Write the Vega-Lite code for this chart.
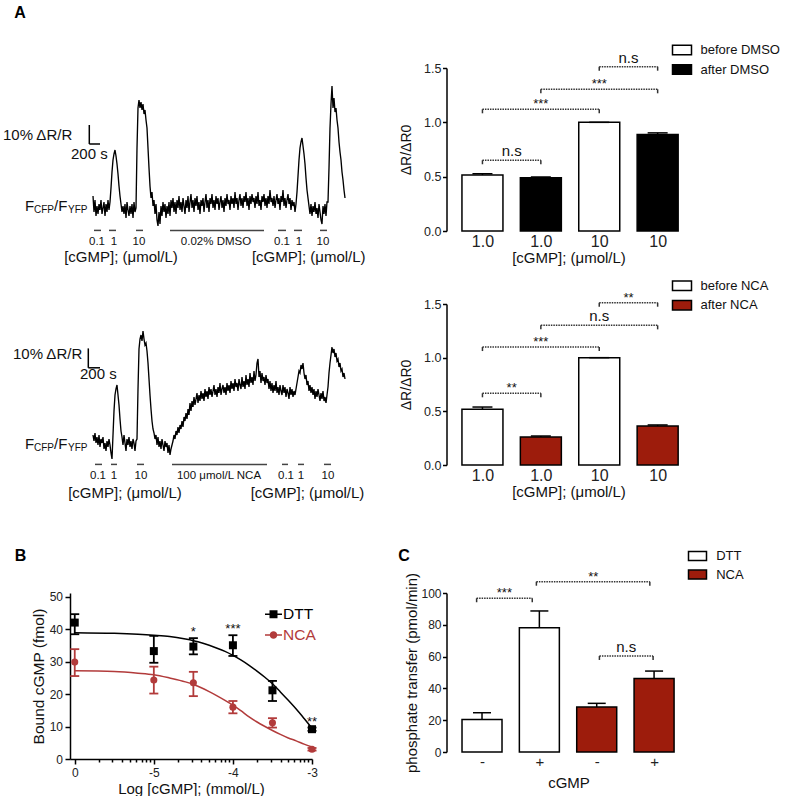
{
"$schema": "https://vega.github.io/schema/vega-lite/v6.json",
"background": "white",
"padding": {"left": 3, "top": 4, "right": 0, "bottom": 0},
"config": {
  "view": {"stroke": null},
  "font": "Liberation Sans",
  "axis": {"grid": false, "domainColor": "black", "domainWidth": 1.5, "tickColor": "black", "tickWidth": 1.5, "labelColor": "#222", "titleColor": "#111", "titleFontWeight": "normal", "labelFlush": false, "labelOverlap": false, "tickCount": 100},
  "legend": {"labelColor": "#111"},
  "text": {"color": "#111"}
},
"resolve": {"scale": {"fill": "independent", "color": "independent", "shape": "independent"}},
"datasets": {
"trace1": [{"t":0,"v":6},{"t":20,"v":-2},{"t":40,"v":4},{"t":60,"v":-4},{"t":80,"v":1},{"t":100,"v":-3},{"t":120,"v":2},{"t":140,"v":-1},{"t":160,"v":4},{"t":180,"v":-3},
{"t":200,"v":0},{"t":220,"v":3},{"t":240,"v":-4},{"t":260,"v":2},{"t":280,"v":-2},{"t":300,"v":4},{"t":320,"v":-1},{"t":340,"v":3},{"t":360,"v":10},{"t":380,"v":18},
{"t":400,"v":24},{"t":420,"v":27},{"t":440,"v":29},{"t":460,"v":26},{"t":480,"v":22},{"t":500,"v":17},{"t":520,"v":11},{"t":540,"v":6},{"t":560,"v":2},{"t":580,"v":-2},
{"t":600,"v":1},{"t":620,"v":-3},{"t":640,"v":2},{"t":660,"v":-5},{"t":680,"v":3},{"t":700,"v":-1},{"t":720,"v":-4},{"t":740,"v":1},{"t":760,"v":-3},{"t":780,"v":2},
{"t":800,"v":-5},{"t":820,"v":3},{"t":840,"v":-2},{"t":860,"v":0},{"t":880,"v":30},{"t":900,"v":50},{"t":920,"v":54},{"t":940,"v":50},{"t":960,"v":53},{"t":980,"v":49},
{"t":1000,"v":52},{"t":1020,"v":47},{"t":1040,"v":49},{"t":1060,"v":44},{"t":1080,"v":40},{"t":1100,"v":30},{"t":1120,"v":20},{"t":1140,"v":11},{"t":1160,"v":5},{"t":1180,"v":8},
{"t":1200,"v":1},{"t":1220,"v":4},{"t":1240,"v":-3},{"t":1260,"v":2},{"t":1280,"v":-6},{"t":1300,"v":-9},{"t":1320,"v":-2},{"t":1340,"v":-8},{"t":1360,"v":1},{"t":1380,"v":-4},
{"t":1400,"v":3},{"t":1420,"v":-2},{"t":1440,"v":2},{"t":1460,"v":-5},{"t":1480,"v":1},{"t":1500,"v":-3},{"t":1520,"v":3},{"t":1540,"v":-4},{"t":1560,"v":4},{"t":1580,"v":0},
{"t":1600,"v":5},{"t":1620,"v":-2},{"t":1640,"v":3},{"t":1660,"v":-3},{"t":1680,"v":4},{"t":1700,"v":0},{"t":1720,"v":6},{"t":1740,"v":-1},{"t":1760,"v":3},{"t":1780,"v":-2},
{"t":1800,"v":5},{"t":1820,"v":1},{"t":1840,"v":-3},{"t":1860,"v":4},{"t":1880,"v":0},{"t":1900,"v":6},{"t":1920,"v":-2},{"t":1940,"v":3},{"t":1960,"v":7},{"t":1980,"v":0},
{"t":2000,"v":4},{"t":2020,"v":-2},{"t":2040,"v":5},{"t":2060,"v":1},{"t":2080,"v":6},{"t":2100,"v":-1},{"t":2120,"v":3},{"t":2140,"v":-3},{"t":2160,"v":4},{"t":2180,"v":1},
{"t":2200,"v":5},{"t":2220,"v":-2},{"t":2240,"v":3},{"t":2260,"v":7},{"t":2280,"v":0},{"t":2300,"v":4},{"t":2320,"v":-2},{"t":2340,"v":5},{"t":2360,"v":2},{"t":2380,"v":7},
{"t":2400,"v":0},{"t":2420,"v":4},{"t":2440,"v":-1},{"t":2460,"v":6},{"t":2480,"v":2},{"t":2500,"v":5},{"t":2520,"v":-1},{"t":2540,"v":3},{"t":2560,"v":6},{"t":2580,"v":0},
{"t":2600,"v":4},{"t":2620,"v":-2},{"t":2640,"v":5},{"t":2660,"v":1},{"t":2680,"v":7},{"t":2700,"v":2},{"t":2720,"v":4},{"t":2740,"v":-1},{"t":2760,"v":6},{"t":2780,"v":2},
{"t":2800,"v":5},{"t":2820,"v":0},{"t":2840,"v":8},{"t":2860,"v":2},{"t":2880,"v":5},{"t":2900,"v":-1},{"t":2920,"v":4},{"t":2940,"v":7},{"t":2960,"v":1},{"t":2980,"v":5},
{"t":3000,"v":0},{"t":3020,"v":6},{"t":3040,"v":3},{"t":3060,"v":8},{"t":3080,"v":1},{"t":3100,"v":5},{"t":3120,"v":-1},{"t":3140,"v":6},{"t":3160,"v":2},{"t":3180,"v":7},
{"t":3200,"v":3},{"t":3220,"v":5},{"t":3240,"v":0},{"t":3260,"v":6},{"t":3280,"v":2},{"t":3300,"v":8},{"t":3320,"v":1},{"t":3340,"v":4},{"t":3360,"v":-1},{"t":3380,"v":6},
{"t":3400,"v":3},{"t":3420,"v":7},{"t":3440,"v":1},{"t":3460,"v":5},{"t":3480,"v":0},{"t":3500,"v":6},{"t":3520,"v":2},{"t":3540,"v":9},{"t":3560,"v":3},{"t":3580,"v":5},
{"t":3600,"v":1},{"t":3620,"v":6},{"t":3640,"v":0},{"t":3660,"v":4},{"t":3680,"v":7},{"t":3700,"v":2},{"t":3720,"v":5},{"t":3740,"v":-1},{"t":3760,"v":6},{"t":3780,"v":3},
{"t":3800,"v":9},{"t":3820,"v":1},{"t":3840,"v":5},{"t":3860,"v":0},{"t":3880,"v":4},{"t":3900,"v":7},{"t":3920,"v":2},{"t":3940,"v":5},{"t":3960,"v":-1},{"t":3980,"v":4},
{"t":4000,"v":1},{"t":4020,"v":3},{"t":4040,"v":-2},{"t":4060,"v":2},{"t":4080,"v":8},{"t":4100,"v":16},{"t":4120,"v":24},{"t":4140,"v":30},{"t":4160,"v":33},{"t":4180,"v":35},
{"t":4200,"v":31},{"t":4220,"v":27},{"t":4240,"v":22},{"t":4260,"v":15},{"t":4280,"v":9},{"t":4300,"v":5},{"t":4320,"v":1},{"t":4340,"v":-3},{"t":4360,"v":2},{"t":4380,"v":-4},
{"t":4400,"v":1},{"t":4420,"v":-2},{"t":4440,"v":3},{"t":4460,"v":-3},{"t":4480,"v":0},{"t":4500,"v":-5},{"t":4520,"v":2},{"t":4540,"v":-2},{"t":4560,"v":-6},{"t":4580,"v":-8},
{"t":4600,"v":1},{"t":4620,"v":-3},{"t":4640,"v":2},{"t":4660,"v":-4},{"t":4680,"v":3},{"t":4700,"v":3},{"t":4720,"v":20},{"t":4740,"v":40},{"t":4760,"v":52},{"t":4780,"v":61},
{"t":4800,"v":50},{"t":4820,"v":55},{"t":4840,"v":48},{"t":4860,"v":50},{"t":4880,"v":44},{"t":4900,"v":40},{"t":4920,"v":33},{"t":4940,"v":28},{"t":4960,"v":24},{"t":4980,"v":18},
{"t":5000,"v":14},{"t":5020,"v":9},{"t":5040,"v":5}],
"trace2": [{"t":0,"v":2},{"t":20,"v":-1},{"t":40,"v":3},{"t":60,"v":-2},{"t":80,"v":1},{"t":100,"v":-3},{"t":120,"v":2},{"t":140,"v":-4},{"t":160,"v":0},{"t":180,"v":-2},
{"t":200,"v":1},{"t":220,"v":-5},{"t":240,"v":-2},{"t":260,"v":-6},{"t":280,"v":-1},{"t":300,"v":-4},{"t":320,"v":0},{"t":340,"v":-3},{"t":360,"v":-7},{"t":380,"v":-10},
{"t":400,"v":2},{"t":420,"v":14},{"t":440,"v":22},{"t":460,"v":25},{"t":480,"v":27},{"t":500,"v":22},{"t":520,"v":17},{"t":540,"v":10},{"t":560,"v":4},{"t":580,"v":1},
{"t":600,"v":-3},{"t":620,"v":2},{"t":640,"v":-2},{"t":660,"v":-6},{"t":680,"v":0},{"t":700,"v":-3},{"t":720,"v":1},{"t":740,"v":-4},{"t":760,"v":-1},{"t":780,"v":-5},
{"t":800,"v":0},{"t":820,"v":-2},{"t":840,"v":-6},{"t":860,"v":-1},{"t":880,"v":0},{"t":900,"v":25},{"t":920,"v":45},{"t":940,"v":50},{"t":960,"v":52},{"t":980,"v":49},
{"t":1000,"v":54},{"t":1020,"v":50},{"t":1040,"v":47},{"t":1060,"v":48},{"t":1080,"v":44},{"t":1100,"v":38},{"t":1120,"v":30},{"t":1140,"v":22},{"t":1160,"v":15},{"t":1180,"v":9},
{"t":1200,"v":5},{"t":1220,"v":3},{"t":1240,"v":0},{"t":1260,"v":2},{"t":1280,"v":-3},{"t":1300,"v":1},{"t":1320,"v":-4},{"t":1340,"v":-1},{"t":1360,"v":-5},{"t":1380,"v":0},
{"t":1400,"v":-3},{"t":1420,"v":-6},{"t":1440,"v":-1},{"t":1460,"v":-4},{"t":1480,"v":-2},{"t":1500,"v":-7},{"t":1520,"v":-3},{"t":1540,"v":-8},{"t":1560,"v":-5},{"t":1580,"v":-3},
{"t":1600,"v":-1},{"t":1620,"v":2},{"t":1640,"v":0},{"t":1660,"v":4},{"t":1680,"v":2},{"t":1700,"v":6},{"t":1720,"v":3},{"t":1740,"v":7},{"t":1760,"v":5},{"t":1780,"v":9},
{"t":1800,"v":6},{"t":1820,"v":11},{"t":1840,"v":9},{"t":1860,"v":13},{"t":1880,"v":10},{"t":1900,"v":15},{"t":1920,"v":12},{"t":1940,"v":18},{"t":1960,"v":14},{"t":1980,"v":19},
{"t":2000,"v":16},{"t":2020,"v":21},{"t":2040,"v":17},{"t":2060,"v":20},{"t":2080,"v":23},{"t":2100,"v":18},{"t":2120,"v":22},{"t":2140,"v":19},{"t":2160,"v":24},{"t":2180,"v":20},
{"t":2200,"v":23},{"t":2220,"v":19},{"t":2240,"v":25},{"t":2260,"v":21},{"t":2280,"v":24},{"t":2300,"v":20},{"t":2320,"v":26},{"t":2340,"v":22},{"t":2360,"v":25},{"t":2380,"v":21},
{"t":2400,"v":24},{"t":2420,"v":27},{"t":2440,"v":22},{"t":2460,"v":25},{"t":2480,"v":21},{"t":2500,"v":26},{"t":2520,"v":23},{"t":2540,"v":28},{"t":2560,"v":22},{"t":2580,"v":25},
{"t":2600,"v":27},{"t":2620,"v":23},{"t":2640,"v":26},{"t":2660,"v":22},{"t":2680,"v":28},{"t":2700,"v":24},{"t":2720,"v":27},{"t":2740,"v":23},{"t":2760,"v":29},{"t":2780,"v":25},
{"t":2800,"v":28},{"t":2820,"v":24},{"t":2840,"v":30},{"t":2860,"v":26},{"t":2880,"v":28},{"t":2900,"v":24},{"t":2920,"v":30},{"t":2940,"v":27},{"t":2960,"v":25},{"t":2980,"v":31},
{"t":3000,"v":26},{"t":3020,"v":29},{"t":3040,"v":25},{"t":3060,"v":32},{"t":3080,"v":27},{"t":3100,"v":30},{"t":3120,"v":26},{"t":3140,"v":33},{"t":3160,"v":28},{"t":3180,"v":31},
{"t":3200,"v":27},{"t":3220,"v":34},{"t":3240,"v":29},{"t":3260,"v":32},{"t":3280,"v":38},{"t":3300,"v":40},{"t":3320,"v":31},{"t":3340,"v":34},{"t":3360,"v":28},{"t":3380,"v":33},
{"t":3400,"v":29},{"t":3420,"v":31},{"t":3440,"v":27},{"t":3460,"v":32},{"t":3480,"v":28},{"t":3500,"v":30},{"t":3520,"v":25},{"t":3540,"v":29},{"t":3560,"v":24},{"t":3580,"v":28},
{"t":3600,"v":23},{"t":3620,"v":27},{"t":3640,"v":24},{"t":3660,"v":29},{"t":3680,"v":23},{"t":3700,"v":26},{"t":3720,"v":22},{"t":3740,"v":27},{"t":3760,"v":24},{"t":3780,"v":22},
{"t":3800,"v":27},{"t":3820,"v":23},{"t":3840,"v":26},{"t":3860,"v":21},{"t":3880,"v":25},{"t":3900,"v":23},{"t":3920,"v":20},{"t":3940,"v":26},{"t":3960,"v":22},{"t":3980,"v":25},
{"t":4000,"v":21},{"t":4020,"v":24},{"t":4040,"v":22},{"t":4060,"v":25},{"t":4080,"v":28},{"t":4100,"v":31},{"t":4120,"v":34},{"t":4140,"v":33},{"t":4160,"v":37},{"t":4180,"v":35},
{"t":4200,"v":38},{"t":4220,"v":33},{"t":4240,"v":30},{"t":4260,"v":32},{"t":4280,"v":27},{"t":4300,"v":29},{"t":4320,"v":24},{"t":4340,"v":27},{"t":4360,"v":23},{"t":4380,"v":26},
{"t":4400,"v":22},{"t":4420,"v":25},{"t":4440,"v":20},{"t":4460,"v":24},{"t":4480,"v":21},{"t":4500,"v":25},{"t":4520,"v":22},{"t":4540,"v":19},{"t":4560,"v":23},{"t":4580,"v":20},
{"t":4600,"v":24},{"t":4620,"v":19},{"t":4640,"v":21},{"t":4660,"v":18},{"t":4680,"v":22},{"t":4700,"v":26},{"t":4720,"v":33},{"t":4740,"v":38},{"t":4760,"v":42},{"t":4780,"v":46},
{"t":4800,"v":43},{"t":4820,"v":45},{"t":4840,"v":41},{"t":4860,"v":43},{"t":4880,"v":39},{"t":4900,"v":40},{"t":4920,"v":36},{"t":4940,"v":38},{"t":4960,"v":34},{"t":4980,"v":35},
{"t":5000,"v":31},{"t":5020,"v":33},{"t":5040,"v":30}]
},
"columns": 2,
"spacing": {"row": 20, "column": 76.5},
"bounds": "flush",
"align": "each",
"concat": [
{
 "width": 300, "height": 216,
 "layer": [
  {"data": {"name": "trace1"},
   "mark": {"type": "line", "color": "black", "strokeWidth": 1.35},
   "encoding": {
     "x": {"field": "t", "type": "quantitative", "scale": {"domain": [-460, 5540], "nice": false, "zero": false}, "axis": null},
     "y": {"field": "v", "type": "quantitative", "scale": {"domain": [-38, 70], "nice": false, "zero": false}, "axis": null}}},
  {"data": {"values": [{"t1":20,"t2":160,"tm":80,"label":"0.1"},{"t1":320,"t2":460,"tm":420,"label":"1"},{"t1":860,"t2":1000,"tm":920,"label":"10"},{"t1":1540,"t2":3420,"tm":2460,"label":"0.02% DMSO"},{"t1":3700,"t2":3860,"tm":3780,"label":"0.1"},{"t1":4020,"t2":4180,"tm":4120,"label":"1"},{"t1":4540,"t2":4680,"tm":4600,"label":"10"}]},
   "layer": [
    {"mark": {"type": "rule", "color": "#444", "strokeWidth": 1.5},
     "encoding": {"x": {"field": "t1", "type": "quantitative", "axis": null}, "x2": {"field": "t2"}, "y": {"datum": -11.2, "axis": null}}},
    {"mark": {"type": "text", "fontSize": 11.5, "align": "center", "baseline": "alphabetic"},
     "encoding": {"x": {"field": "tm", "type": "quantitative", "axis": null}, "y": {"datum": -18.25, "axis": null}, "text": {"field": "label"}}}
   ]},
  {"data": {"values": [{"tm": 560, "label": "[cGMP]; (μmol/L)"}, {"tm": 4315, "label": "[cGMP]; (μmol/L)"}]},
   "mark": {"type": "text", "fontSize": 15, "align": "center", "baseline": "alphabetic"},
   "encoding": {"x": {"field": "tm", "type": "quantitative", "axis": null}, "y": {"datum": -27, "axis": null}, "text": {"field": "label"}}},
  {"data": {"values": [{}]}, "mark": {"type": "rule", "color": "black", "strokeWidth": 1.5},
   "encoding": {"x": {"datum": -74, "axis": null}, "y": {"datum": 32, "axis": null}, "y2": {"datum": 41.5}}},
  {"data": {"values": [{}]}, "mark": {"type": "rule", "color": "black", "strokeWidth": 1.5},
   "encoding": {"x": {"datum": -74, "axis": null}, "x2": {"datum": 140}, "y": {"datum": 32, "axis": null}}},
  {"data": {"values": [{"t": -1800, "v": 34, "s": "10% ΔR/R"}, {"t": -440, "v": 24.75, "s": "200 s"}, {"t": -1360, "v": -1.5, "s": "F"}, {"t": -780, "v": -1.5, "s": "/F"}]},
   "mark": {"type": "text", "fontSize": 15, "align": "left", "baseline": "alphabetic"},
   "encoding": {"x": {"field": "t", "type": "quantitative", "axis": null}, "y": {"field": "v", "type": "quantitative", "axis": null}, "text": {"field": "s"}}},
  {"data": {"values": [{"t": -1180, "v": -2.25, "s": "CFP"}, {"t": -500, "v": -2.25, "s": "YFP"}]},
   "mark": {"type": "text", "fontSize": 10, "align": "left", "baseline": "alphabetic"},
   "encoding": {"x": {"field": "t", "type": "quantitative", "axis": null}, "y": {"field": "v", "type": "quantitative", "axis": null}, "text": {"field": "s"}}},
  {"data": {"values": [{"t": -1460, "v": 95.15, "s": "A"}]},
   "mark": {"type": "text", "fontSize": 16, "fontWeight": "bold", "align": "center", "baseline": "alphabetic", "color": "black"},
   "encoding": {"x": {"field": "t", "type": "quantitative", "axis": null}, "y": {"field": "v", "type": "quantitative", "axis": null}, "text": {"field": "s"}}}
 ]
},
{
 "width": 244, "height": 163,
 "layer": [
  {"data": {"values": [{"pos":1,"conc":"1.0","cond":"before DMSO","value":0.515,"hi":0.527},{"pos":2,"conc":"1.0","cond":"after DMSO","value":0.49,"hi":0.497},{"pos":3,"conc":"10","cond":"before DMSO","value":1.0,"hi":1.0},{"pos":4,"conc":"10","cond":"after DMSO","value":0.888,"hi":0.903}]},
   "layer": [
    {"mark": {"type": "bar", "orient": "vertical", "width": 41, "stroke": "black", "strokeWidth": 1.5},
     "encoding": {
       "x": {"field": "pos", "type": "quantitative", "scale": {"domain": [0.47, 4.477], "nice": false, "zero": false}, "axis": {"values": [1,2,3,4], "tickCount": 100, "labelExpr": "datum.value <= 2 ? '1.0' : '10'", "domain": false, "ticks": false, "labelOverlap": false, "labelFlush": false, "labelFontSize": 16, "labelPadding": 2, "title": "[cGMP]; (μmol/L)", "titleFontSize": 15, "titlePadding": 1}},
       "y": {"field": "value", "type": "quantitative", "scale": {"domain": [0, 1.5], "nice": false}, "axis": {"values": [0, 0.5, 1, 1.5], "tickCount": 100, "format": ".1f", "tickSize": 4, "labelOverlap": false, "labelFlush": false, "labelFontSize": 12.5, "labelPadding": 1.5, "title": "ΔR/ΔR0", "titleFontSize": 14, "titlePadding": 10}},
       "y2": {"datum": 0},
       "fill": {"field": "cond", "type": "nominal", "scale": {"domain": ["before DMSO", "after DMSO"], "range": ["white", "black"]},
                "legend": {"orient": "none", "legendX": 225, "legendY": -28.5, "title": null, "symbolType": "M-1,-0.5H1V0.5H-1Z", "symbolSize": 361, "symbolStrokeColor": "black", "symbolStrokeWidth": 1.5, "symbolOpacity": 1, "labelFontSize": 13, "labelOffset": 8, "rowPadding": 0.5, "padding": 0}}}},
    {"mark": {"type": "rule", "color": "black", "strokeWidth": 1.5},
     "encoding": {"x": {"field": "pos", "type": "quantitative"}, "y": {"field": "value", "type": "quantitative"}, "y2": {"field": "hi"}}},
    {"mark": {"type": "tick", "orient": "horizontal", "size": 20, "thickness": 1.5, "color": "black", "opacity": 1},
     "encoding": {"x": {"field": "pos", "type": "quantitative"}, "y": {"field": "hi", "type": "quantitative"}}}
   ]},
  {"data": {"values": [{"x1":1,"x2":2,"xm":1.5,"y":0.651,"label":"n.s"},{"x1":1,"x2":3,"xm":2,"y":1.12,"label":"***"},{"x1":2,"x2":4,"xm":3,"y":1.304,"label":"***"},{"x1":3,"x2":4,"xm":3.5,"y":1.512,"label":"n.s"}]},
   "layer": [
    {"mark": {"type": "rule", "color": "#333", "strokeWidth": 1.5, "strokeDash": [1.5, 1]},
     "encoding": {"x": {"field": "x1", "type": "quantitative"}, "x2": {"field": "x2"}, "y": {"field": "y", "type": "quantitative"}}},
    {"mark": {"type": "rule", "color": "#333", "strokeWidth": 1.5, "y2Offset": 4},
     "encoding": {"x": {"field": "x1", "type": "quantitative"}, "y": {"field": "y", "type": "quantitative"}, "y2": {"field": "y"}}},
    {"mark": {"type": "rule", "color": "#333", "strokeWidth": 1.5, "y2Offset": 4},
     "encoding": {"x": {"field": "x2", "type": "quantitative"}, "y": {"field": "y", "type": "quantitative"}, "y2": {"field": "y"}}},
    {"transform": [{"filter": "datum.label == 'n.s'"}],
     "mark": {"type": "text", "fontSize": 15, "dy": -4, "baseline": "alphabetic"},
     "encoding": {"x": {"field": "xm", "type": "quantitative"}, "y": {"field": "y", "type": "quantitative"}, "text": {"field": "label"}}},
    {"transform": [{"filter": "datum.label != 'n.s'"}],
     "mark": {"type": "text", "fontSize": 13, "dy": -1, "baseline": "alphabetic"},
     "encoding": {"x": {"field": "xm", "type": "quantitative"}, "y": {"field": "y", "type": "quantitative"}, "text": {"field": "label"}}}
   ]}
 ]
},
{
 "width": 300, "height": 269,
 "layer": [
  {"data": {"name": "trace2"},
   "mark": {"type": "line", "color": "black", "strokeWidth": 1.35},
   "encoding": {
     "x": {"field": "t", "type": "quantitative", "scale": {"domain": [-460, 5540], "nice": false, "zero": false}, "axis": null},
     "y": {"field": "v", "type": "quantitative", "scale": {"domain": [-67, 67.5], "nice": false, "zero": false}, "axis": null}}},
  {"data": {"values": [{"t1":40,"t2":180,"tm":100,"label":"0.1"},{"t1":360,"t2":480,"tm":420,"label":"1"},{"t1":880,"t2":1020,"tm":960,"label":"10"},{"t1":1580,"t2":3480,"tm":2520,"label":"100 μmol/L NCA"},{"t1":3780,"t2":3900,"tm":3860,"label":"0.1"},{"t1":4100,"t2":4220,"tm":4160,"label":"1"},{"t1":4620,"t2":4760,"tm":4700,"label":"10"}]},
   "layer": [
    {"mark": {"type": "rule", "color": "#444", "strokeWidth": 1.5},
     "encoding": {"x": {"field": "t1", "type": "quantitative", "axis": null}, "x2": {"field": "t2"}, "y": {"datum": -12.7, "axis": null}}},
    {"mark": {"type": "text", "fontSize": 11.5, "align": "center", "baseline": "alphabetic"},
     "encoding": {"x": {"field": "tm", "type": "quantitative", "axis": null}, "y": {"datum": -20, "axis": null}, "text": {"field": "label"}}}
   ]},
  {"data": {"values": [{"tm": 640, "label": "[cGMP]; (μmol/L)"}, {"tm": 4290, "label": "[cGMP]; (μmol/L)"}]},
   "mark": {"type": "text", "fontSize": 15, "align": "center", "baseline": "alphabetic"},
   "encoding": {"x": {"field": "tm", "type": "quantitative", "axis": null}, "y": {"datum": -29.5, "axis": null}, "text": {"field": "label"}}},
  {"data": {"values": [{}]}, "mark": {"type": "rule", "color": "black", "strokeWidth": 1.5},
   "encoding": {"x": {"datum": -94, "axis": null}, "y": {"datum": 35.6, "axis": null}, "y2": {"datum": 45.3}}},
  {"data": {"values": [{}]}, "mark": {"type": "rule", "color": "black", "strokeWidth": 1.5},
   "encoding": {"x": {"datum": -94, "axis": null}, "x2": {"datum": 140}, "y": {"datum": 35.6, "axis": null}}},
  {"data": {"values": [{"t": -1600, "v": 40.25, "s": "10% ΔR/R"}, {"t": -260, "v": 30.25, "s": "200 s"}, {"t": -1360, "v": -5, "s": "F"}, {"t": -780, "v": -5, "s": "/F"}]},
   "mark": {"type": "text", "fontSize": 15, "align": "left", "baseline": "alphabetic"},
   "encoding": {"x": {"field": "t", "type": "quantitative", "axis": null}, "y": {"field": "v", "type": "quantitative", "axis": null}, "text": {"field": "s"}}},
  {"data": {"values": [{"t": -1180, "v": -5.75, "s": "CFP"}, {"t": -500, "v": -5.75, "s": "YFP"}]},
   "mark": {"type": "text", "fontSize": 10, "align": "left", "baseline": "alphabetic"},
   "encoding": {"x": {"field": "t", "type": "quantitative", "axis": null}, "y": {"field": "v", "type": "quantitative", "axis": null}, "text": {"field": "s"}}},
  {"data": {"values": [{"t": -1450, "v": -61, "s": "B"}, {"t": 6220, "v": -61, "s": "C"}]},
   "mark": {"type": "text", "fontSize": 16, "fontWeight": "bold", "align": "center", "baseline": "alphabetic", "color": "black"},
   "encoding": {"x": {"field": "t", "type": "quantitative", "axis": null}, "y": {"field": "v", "type": "quantitative", "axis": null}, "text": {"field": "s"}}}
 ]
},
{
 "width": 244, "height": 161,
 "layer": [
  {"data": {"values": [{"pos":1,"conc":"1.0","cond":"before NCA","value":0.519,"hi":0.54},{"pos":2,"conc":"1.0","cond":"after NCA","value":0.261,"hi":0.27},{"pos":3,"conc":"10","cond":"before NCA","value":1.0,"hi":1.0},{"pos":4,"conc":"10","cond":"after NCA","value":0.363,"hi":0.373}]},
   "layer": [
    {"mark": {"type": "bar", "orient": "vertical", "width": 41, "stroke": "black", "strokeWidth": 1.5},
     "encoding": {
       "x": {"field": "pos", "type": "quantitative", "scale": {"domain": [0.47, 4.477], "nice": false, "zero": false}, "axis": {"values": [1,2,3,4], "tickCount": 100, "labelExpr": "datum.value <= 2 ? '1.0' : '10'", "domain": false, "ticks": false, "labelOverlap": false, "labelFlush": false, "labelFontSize": 16, "labelPadding": 2, "title": "[cGMP]; (μmol/L)", "titleFontSize": 15, "titlePadding": 1}},
       "y": {"field": "value", "type": "quantitative", "scale": {"domain": [0, 1.5], "nice": false}, "axis": {"values": [0, 0.5, 1, 1.5], "tickCount": 100, "format": ".1f", "tickSize": 4, "labelOverlap": false, "labelFlush": false, "labelFontSize": 12.5, "labelPadding": 1.5, "title": "ΔR/ΔR0", "titleFontSize": 14, "titlePadding": 10}},
       "y2": {"datum": 0},
       "fill": {"field": "cond", "type": "nominal", "scale": {"domain": ["before NCA", "after NCA"], "range": ["white", "#9d1c0c"]},
                "legend": {"orient": "none", "legendX": 225, "legendY": -28.8, "title": null, "symbolType": "M-1,-0.5H1V0.5H-1Z", "symbolSize": 361, "symbolStrokeColor": "black", "symbolStrokeWidth": 1.5, "symbolOpacity": 1, "labelFontSize": 13, "labelOffset": 8, "rowPadding": 0.5, "padding": 0}}}},
    {"mark": {"type": "rule", "color": "black", "strokeWidth": 1.5},
     "encoding": {"x": {"field": "pos", "type": "quantitative"}, "y": {"field": "value", "type": "quantitative"}, "y2": {"field": "hi"}}},
    {"mark": {"type": "tick", "orient": "horizontal", "size": 20, "thickness": 1.5, "color": "black", "opacity": 1},
     "encoding": {"x": {"field": "pos", "type": "quantitative"}, "y": {"field": "hi", "type": "quantitative"}}}
   ]},
  {"data": {"values": [{"x1":1,"x2":2,"xm":1.5,"y":0.668,"label":"**"},{"x1":1,"x2":3,"xm":2,"y":1.099,"label":"***"},{"x1":2,"x2":4,"xm":3,"y":1.301,"label":"n.s"},{"x1":3,"x2":4,"xm":3.5,"y":1.512,"label":"**"}]},
   "layer": [
    {"mark": {"type": "rule", "color": "#333", "strokeWidth": 1.5, "strokeDash": [1.5, 1]},
     "encoding": {"x": {"field": "x1", "type": "quantitative"}, "x2": {"field": "x2"}, "y": {"field": "y", "type": "quantitative"}}},
    {"mark": {"type": "rule", "color": "#333", "strokeWidth": 1.5, "y2Offset": 4},
     "encoding": {"x": {"field": "x1", "type": "quantitative"}, "y": {"field": "y", "type": "quantitative"}, "y2": {"field": "y"}}},
    {"mark": {"type": "rule", "color": "#333", "strokeWidth": 1.5, "y2Offset": 4},
     "encoding": {"x": {"field": "x2", "type": "quantitative"}, "y": {"field": "y", "type": "quantitative"}, "y2": {"field": "y"}}},
    {"transform": [{"filter": "datum.label == 'n.s'"}],
     "mark": {"type": "text", "fontSize": 15, "dy": -4, "baseline": "alphabetic"},
     "encoding": {"x": {"field": "xm", "type": "quantitative"}, "y": {"field": "y", "type": "quantitative"}, "text": {"field": "label"}}},
    {"transform": [{"filter": "datum.label != 'n.s'"}],
     "mark": {"type": "text", "fontSize": 13, "dy": -1, "baseline": "alphabetic"},
     "encoding": {"x": {"field": "xm", "type": "quantitative"}, "y": {"field": "y", "type": "quantitative"}, "text": {"field": "label"}}}
   ]}
 ]
},
{
 "width": 242, "height": 166,
 "layer": [
  {"data": {"values": [
    {"series":"DTT","x":-6,"y":39.0},{"series":"DTT","x":-5.5,"y":38.8},{"series":"DTT","x":-5.2,"y":38.5},{"series":"DTT","x":-5.0,"y":38.2},{"series":"DTT","x":-4.8,"y":37.8},{"series":"DTT","x":-4.6,"y":37.0},{"series":"DTT","x":-4.5,"y":36.5},{"series":"DTT","x":-4.4,"y":35.9},{"series":"DTT","x":-4.3,"y":35.1},{"series":"DTT","x":-4.2,"y":34.2},{"series":"DTT","x":-4.1,"y":33.2},{"series":"DTT","x":-4.0,"y":32.0},{"series":"DTT","x":-3.9,"y":30.6},{"series":"DTT","x":-3.8,"y":29.0},{"series":"DTT","x":-3.7,"y":27.2},{"series":"DTT","x":-3.6,"y":25.3},{"series":"DTT","x":-3.5,"y":23.2},{"series":"DTT","x":-3.4,"y":20.7},{"series":"DTT","x":-3.3,"y":18.1},{"series":"DTT","x":-3.2,"y":15.4},{"series":"DTT","x":-3.1,"y":12.5},{"series":"DTT","x":-3.0,"y":9.5},
    {"series":"NCA","x":-6,"y":27.2},{"series":"NCA","x":-5.5,"y":27.0},{"series":"NCA","x":-5.2,"y":26.5},{"series":"NCA","x":-5.0,"y":26.0},{"series":"NCA","x":-4.8,"y":25.0},{"series":"NCA","x":-4.6,"y":23.8},{"series":"NCA","x":-4.5,"y":23.0},{"series":"NCA","x":-4.4,"y":22.0},{"series":"NCA","x":-4.3,"y":20.8},{"series":"NCA","x":-4.2,"y":19.5},{"series":"NCA","x":-4.1,"y":18.1},{"series":"NCA","x":-4.0,"y":16.6},{"series":"NCA","x":-3.9,"y":14.9},{"series":"NCA","x":-3.8,"y":13.1},{"series":"NCA","x":-3.7,"y":11.5},{"series":"NCA","x":-3.6,"y":10.1},{"series":"NCA","x":-3.5,"y":8.8},{"series":"NCA","x":-3.4,"y":7.6},{"series":"NCA","x":-3.3,"y":6.5},{"series":"NCA","x":-3.2,"y":5.6},{"series":"NCA","x":-3.1,"y":4.6},{"series":"NCA","x":-3.0,"y":3.7}]},
   "layer": [
    {"transform": [{"filter": "datum.series == 'DTT'"}],
     "mark": {"type": "line", "color": "black", "strokeWidth": 1.5, "interpolate": "monotone"},
     "encoding": {
      "x": {"field": "x", "type": "quantitative", "scale": {"domain": [-6.06, -3], "nice": false, "zero": false},
            "axis": {"values": [-6, -5.699, -5.523, -5.398, -5.301, -5.222, -5.155, -5.097, -5.046, -5, -4.699, -4.523, -4.398, -4.301, -4.222, -4.155, -4.097, -4.046, -4, -3.699, -3.523, -3.398, -3.301, -3.222, -3.155, -3.097, -3.046, -3],
                     "tickCount": 100,
                     "labelExpr": "datum.value == -6 ? '0' : (datum.value == round(datum.value) ? '-' + abs(datum.value) : '')",
                     "tickSize": {"condition": {"test": "datum.value == round(datum.value)", "value": 5}, "value": 3},
                     "labelOverlap": false, "labelFlush": false,
                     "labelFontSize": 12, "labelPadding": 3, "title": "Log [cGMP]; (mmol/L)", "titleFontSize": 15, "titlePadding": 3}},
      "y": {"field": "y", "type": "quantitative", "scale": {"domain": [0, 51.23], "nice": false}, "axis": {"values": [0, 10, 20, 30, 40, 50], "tickCount": 100, "format": "d", "tickSize": 5, "labelOverlap": false, "labelFlush": false, "labelFontSize": 12, "labelPadding": 2.5, "title": "Bound cGMP (fmol)", "titleFontSize": 15.5, "titlePadding": 3}}}},
    {"transform": [{"filter": "datum.series == 'NCA'"}],
     "mark": {"type": "line", "color": "#b23b3b", "strokeWidth": 1.5, "interpolate": "monotone"},
     "encoding": {"x": {"field": "x", "type": "quantitative"}, "y": {"field": "y", "type": "quantitative"}}}
   ]},
  {"data": {"values": [
    {"series":"DTT","x":-6,"y":42.1,"lo":38.5,"hi":44.7,"star":""},{"series":"DTT","x":-5,"y":33.3,"lo":29.7,"hi":38.0,"star":""},{"series":"DTT","x":-4.5,"y":34.7,"lo":32.3,"hi":37.3,"star":"*"},{"series":"DTT","x":-4,"y":35.1,"lo":31.8,"hi":38.2,"star":"***"},{"series":"DTT","x":-3.5,"y":21.2,"lo":17.9,"hi":24.1,"star":""},{"series":"DTT","x":-3,"y":9.2,"lo":8.7,"hi":9.7,"star":"**"},
    {"series":"NCA","x":-6,"y":29.9,"lo":25.6,"hi":33.9,"star":""},{"series":"NCA","x":-5,"y":24.4,"lo":20.2,"hi":28.5,"star":""},{"series":"NCA","x":-4.5,"y":23.5,"lo":19.4,"hi":26.9,"star":""},{"series":"NCA","x":-4,"y":16.0,"lo":14.1,"hi":17.9,"star":""},{"series":"NCA","x":-3.5,"y":11.2,"lo":9.7,"hi":12.6,"star":""},{"series":"NCA","x":-3,"y":3.0,"lo":2.6,"hi":3.4,"star":""}]},
   "layer": [
    {"transform": [{"filter": "datum.series == 'DTT'"}],
     "layer": [
      {"mark": {"type": "rule", "color": "black", "strokeWidth": 1.8},
       "encoding": {"x": {"field": "x", "type": "quantitative"}, "y": {"field": "lo", "type": "quantitative"}, "y2": {"field": "hi"}}},
      {"mark": {"type": "rule", "color": "black", "strokeWidth": 1.8, "xOffset": -4.5, "x2Offset": 4.5},
       "encoding": {"x": {"field": "x", "type": "quantitative"}, "x2": {"field": "x"}, "y": {"field": "lo", "type": "quantitative"}}},
      {"mark": {"type": "rule", "color": "black", "strokeWidth": 1.8, "xOffset": -4.5, "x2Offset": 4.5},
       "encoding": {"x": {"field": "x", "type": "quantitative"}, "x2": {"field": "x"}, "y": {"field": "hi", "type": "quantitative"}}},
      {"mark": {"type": "point", "shape": "square", "filled": true, "opacity": 1, "size": 64, "color": "black"},
       "encoding": {"x": {"field": "x", "type": "quantitative"}, "y": {"field": "y", "type": "quantitative"}}}
     ]},
    {"transform": [{"filter": "datum.series == 'NCA'"}],
     "layer": [
      {"mark": {"type": "rule", "color": "#b23b3b", "strokeWidth": 1.8},
       "encoding": {"x": {"field": "x", "type": "quantitative"}, "y": {"field": "lo", "type": "quantitative"}, "y2": {"field": "hi"}}},
      {"mark": {"type": "rule", "color": "#b23b3b", "strokeWidth": 1.8, "xOffset": -4.5, "x2Offset": 4.5},
       "encoding": {"x": {"field": "x", "type": "quantitative"}, "x2": {"field": "x"}, "y": {"field": "lo", "type": "quantitative"}}},
      {"mark": {"type": "rule", "color": "#b23b3b", "strokeWidth": 1.8, "xOffset": -4.5, "x2Offset": 4.5},
       "encoding": {"x": {"field": "x", "type": "quantitative"}, "x2": {"field": "x"}, "y": {"field": "hi", "type": "quantitative"}}},
      {"mark": {"type": "point", "shape": "circle", "filled": true, "opacity": 1, "size": 50, "color": "#b23b3b"},
       "encoding": {"x": {"field": "x", "type": "quantitative"}, "y": {"field": "y", "type": "quantitative"}}}
     ]},
    {"mark": {"type": "point", "filled": true, "opacity": 0, "size": 289},
     "encoding": {"x": {"field": "x", "type": "quantitative"}, "y": {"field": "y", "type": "quantitative"},
      "color": {"field": "series", "type": "nominal", "scale": {"domain": ["DTT", "NCA"], "range": ["black", "#b23b3b"]},
        "legend": {"orient": "none", "legendX": 195, "legendY": 12.8, "title": null, "labelFontSize": 15.5, "labelOffset": 1, "rowPadding": 3.7, "padding": 0, "symbolSize": 289, "symbolOpacity": 1, "symbolStrokeWidth": 0,
                   "labelColor": {"expr": "datum.value === 'NCA' ? '#b23b3b' : 'black'"}}},
      "shape": {"field": "series", "type": "nominal", "scale": {"domain": ["DTT", "NCA"], "range": ["M-1,-0.09H1V0.09H-1Z M-0.47,-0.47H0.47V0.47H-0.47Z", "M-1,-0.09H1V0.09H-1Z M0.44,0A0.44,0.44,0,1,1,-0.44,0A0.44,0.44,0,1,1,0.44,0Z"]},
        "legend": {"orient": "none", "legendX": 195, "legendY": 12.8, "title": null, "labelFontSize": 15.5, "labelOffset": 1, "rowPadding": 3.7, "padding": 0, "symbolSize": 289, "symbolOpacity": 1, "symbolStrokeWidth": 0,
                   "labelColor": {"expr": "datum.value === 'NCA' ? '#b23b3b' : 'black'"}}}}},
    {"mark": {"type": "text", "fontSize": 13, "align": "center", "baseline": "alphabetic", "dy": -2},
     "encoding": {"x": {"field": "x", "type": "quantitative"}, "y": {"field": "hi", "type": "quantitative"}, "text": {"field": "star"}}}
   ]}
 ]
},
{
 "width": 244, "height": 159,
 "layer": [
  {"data": {"values": [{"pos":1,"cgmp":"-","cond":"DTT","value":20.5,"hi":24.7},{"pos":2,"cgmp":"+","cond":"DTT","value":78.2,"hi":88.7},{"pos":3,"cgmp":"-","cond":"NCA","value":28.3,"hi":30.6},{"pos":4,"cgmp":"+","cond":"NCA","value":46.3,"hi":50.9}]},
   "layer": [
    {"mark": {"type": "bar", "orient": "vertical", "width": 40, "stroke": "black", "strokeWidth": 1.5},
     "encoding": {
       "x": {"field": "pos", "type": "quantitative", "scale": {"domain": [0.468, 4.548], "nice": false, "zero": false}, "axis": {"values": [1,2,3,4], "tickCount": 100, "labelExpr": "datum.value % 2 == 1 ? '-' : '+'", "domain": false, "ticks": false, "labelOverlap": false, "labelFlush": false, "labelFontSize": 15, "labelPadding": 2.5, "title": "cGMP", "titleFontSize": 15, "titlePadding": 6}},
       "y": {"field": "value", "type": "quantitative", "scale": {"domain": [0, 100], "nice": false}, "axis": {"values": [0, 20, 40, 60, 80, 100], "tickCount": 100, "format": "d", "tickSize": 4, "labelOverlap": false, "labelFlush": false, "labelFontSize": 12, "labelPadding": 1.5, "title": "phosphate transfer (pmol/min)", "titleFontSize": 15, "titlePadding": 1}},
       "y2": {"datum": 0},
       "fill": {"field": "cond", "type": "nominal", "scale": {"domain": ["DTT", "NCA"], "range": ["white", "#9d1c0c"]},
                "legend": {"orient": "none", "legendX": 241, "legendY": -47, "title": null, "symbolType": "M-1,-0.5H1V0.5H-1Z", "symbolSize": 324, "symbolStrokeColor": "black", "symbolStrokeWidth": 1.5, "symbolOpacity": 1, "labelFontSize": 13, "labelOffset": 8.7, "rowPadding": 0.6, "padding": 0}}}},
    {"mark": {"type": "rule", "color": "black", "strokeWidth": 1.5},
     "encoding": {"x": {"field": "pos", "type": "quantitative"}, "y": {"field": "value", "type": "quantitative"}, "y2": {"field": "hi"}}},
    {"mark": {"type": "tick", "orient": "horizontal", "size": 18, "thickness": 1.5, "color": "black", "opacity": 1},
     "encoding": {"x": {"field": "pos", "type": "quantitative"}, "y": {"field": "hi", "type": "quantitative"}}}
   ]},
  {"data": {"values": [{"x1":0.906,"x2":1.876,"xm":1.39,"y":96.7,"label":"***"},{"x1":1.948,"x2":3.926,"xm":2.94,"y":107.1,"label":"**"},{"x1":3.047,"x2":3.983,"xm":3.515,"y":60.4,"label":"n.s"}]},
   "layer": [
    {"mark": {"type": "rule", "color": "#333", "strokeWidth": 1.5, "strokeDash": [1.5, 1]},
     "encoding": {"x": {"field": "x1", "type": "quantitative"}, "x2": {"field": "x2"}, "y": {"field": "y", "type": "quantitative"}}},
    {"mark": {"type": "rule", "color": "#333", "strokeWidth": 1.5, "y2Offset": 4},
     "encoding": {"x": {"field": "x1", "type": "quantitative"}, "y": {"field": "y", "type": "quantitative"}, "y2": {"field": "y"}}},
    {"mark": {"type": "rule", "color": "#333", "strokeWidth": 1.5, "y2Offset": 4},
     "encoding": {"x": {"field": "x2", "type": "quantitative"}, "y": {"field": "y", "type": "quantitative"}, "y2": {"field": "y"}}},
    {"transform": [{"filter": "datum.label == 'n.s'"}],
     "mark": {"type": "text", "fontSize": 15, "dy": -4, "baseline": "alphabetic"},
     "encoding": {"x": {"field": "xm", "type": "quantitative"}, "y": {"field": "y", "type": "quantitative"}, "text": {"field": "label"}}},
    {"transform": [{"filter": "datum.label != 'n.s'"}],
     "mark": {"type": "text", "fontSize": 13, "dy": -1, "baseline": "alphabetic"},
     "encoding": {"x": {"field": "xm", "type": "quantitative"}, "y": {"field": "y", "type": "quantitative"}, "text": {"field": "label"}}}
   ]}
 ]
}
]
}
